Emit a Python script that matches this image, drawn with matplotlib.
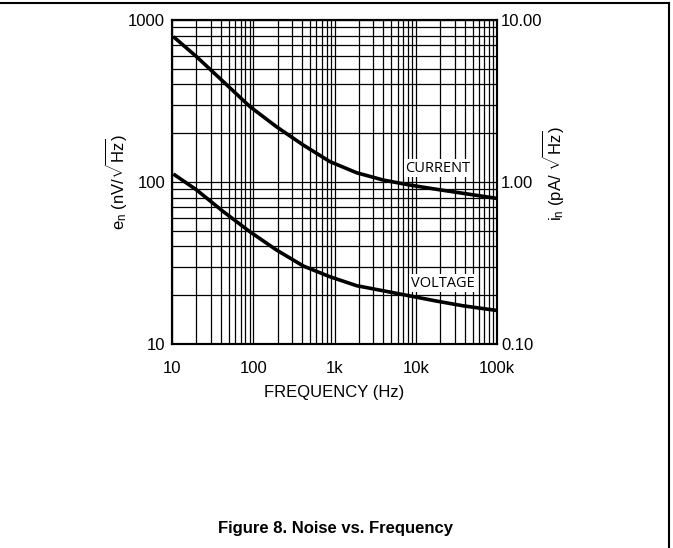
import matplotlib
matplotlib.use("Agg")
import matplotlib.pyplot as plt
from matplotlib.lines import Line2D
from matplotlib.ticker import LogLocator, FixedLocator, NullFormatter, FixedFormatter
import numpy as np

plt.rcParams['font.family'] = ['Liberation Sans', 'DejaVu Sans']
plt.rcParams['mathtext.fontset'] = 'custom'
plt.rcParams['mathtext.rm'] = 'Liberation Sans'
plt.rcParams['mathtext.it'] = 'Liberation Sans'

# Data (en axis units)
freq = [10.4, 20.1, 42.9, 91, 194, 413, 881, 1876, 3990, 8490, 18100, 38500, 100000]
current = [789, 593, 416, 292, 219, 169, 133.5, 114, 102.8, 95.7, 90.1, 85.1, 79.2]
voltage = [112, 89.3, 65.6, 49.3, 38.0, 30.3, 26.0, 22.9, 21.3, 19.8, 18.4, 17.2, 16.1]

x_ticks = [10, 100, 1000, 10000, 100000]
x_labels = ['10', '100', '1k', '10k', '100k']
yl_ticks = [10, 100, 1000]
yl_labels = ['10', '100', '1000']
yr_ticks = [0.1, 1, 10]
yr_labels = ['0.10', '1.00', '10.00']

W, H = 673, 548
fig = plt.figure(figsize=(W / 100, H / 100), dpi=100)
L, R, T, B = 172, 497, 20, 344
ax = fig.add_axes([L / W, 1 - B / H, (R - L) / W, (B - T) / H])
ax.set_xscale('log')
ax.set_yscale('log')
ax.set_xlim(10, 100000)
ax.set_ylim(10, 1000)

ax.xaxis.set_major_locator(FixedLocator(x_ticks))
ax.xaxis.set_major_formatter(FixedFormatter(x_labels))
ax.xaxis.set_minor_locator(LogLocator(base=10, subs=np.arange(2, 10)))
ax.xaxis.set_minor_formatter(NullFormatter())
ax.yaxis.set_major_locator(FixedLocator(yl_ticks))
ax.yaxis.set_major_formatter(FixedFormatter(yl_labels))
ax.yaxis.set_minor_locator(LogLocator(base=10, subs=np.arange(2, 10)))
ax.yaxis.set_minor_formatter(NullFormatter())

ax.grid(True, which='both', color='black', linewidth=0.9)
ax.tick_params(which='both', length=0, labelsize=12)
ax.tick_params(axis='x', pad=12)
ax.tick_params(axis='y', pad=5)
for s in ax.spines.values():
    s.set_linewidth(1.5)

ax.plot(freq, current, color='black', linewidth=2.6, solid_capstyle='butt',
        solid_joinstyle='round', zorder=3)
ax.plot(freq, voltage, color='black', linewidth=2.6, solid_capstyle='butt',
        solid_joinstyle='round', zorder=3)

lab_font = dict(family='Open Sans', fontsize=10.5, color='black',
                bbox=dict(facecolor='white', edgecolor='none', pad=1.0), zorder=4)
ax.text(7380, 121.5, 'CURRENT', va='center', ha='left', **lab_font)
ax.text(8670, 23.7, 'VOLTAGE', va='center', ha='left', **lab_font)

ax.set_xlabel('FREQUENCY (Hz)', fontsize=12)
ax.xaxis.set_label_coords(0.5, (344 - 385) / 324)
ax.set_ylabel(r'e$_\mathregular{n}$ (nV/$\sqrt{\mathregular{Hz}}$)', fontsize=12)
ax.yaxis.set_label_coords((129 - 172) / 325, 0.5)

ax2 = ax.twinx()
ax2.set_yscale('log')
ax2.set_ylim(0.1, 10)
ax2.yaxis.set_major_locator(FixedLocator(yr_ticks))
ax2.yaxis.set_major_formatter(FixedFormatter(yr_labels))
ax2.yaxis.set_minor_locator(LogLocator(base=10, subs=np.arange(2, 10)))
ax2.yaxis.set_minor_formatter(NullFormatter())
ax2.tick_params(which='both', length=0, labelsize=12, pad=3)
for s in ax2.spines.values():
    s.set_linewidth(1.5)
ax2.set_ylabel(r'i$_\mathregular{n}$ (pA/ $\sqrt{\mathregular{Hz}}$)', fontsize=12)
ax2.yaxis.set_label_coords((540 - 172) / 325, (344 - 173) / 324)

fig.text(336 / W, 1 - 528 / H, 'Figure 8. Noise vs. Frequency', ha='center', va='center',
         fontsize=12, fontweight='bold')

# page border lines (top and right)
fig.add_artist(Line2D([0, 669 / W], [1 - 3 / H, 1 - 3 / H], color='black', linewidth=1.5,
                      transform=fig.transFigure))
fig.add_artist(Line2D([669 / W, 669 / W], [1 - 3 / H, 0], color='black', linewidth=1.5,
                      transform=fig.transFigure))

fig.savefig('out.png', dpi=100)
